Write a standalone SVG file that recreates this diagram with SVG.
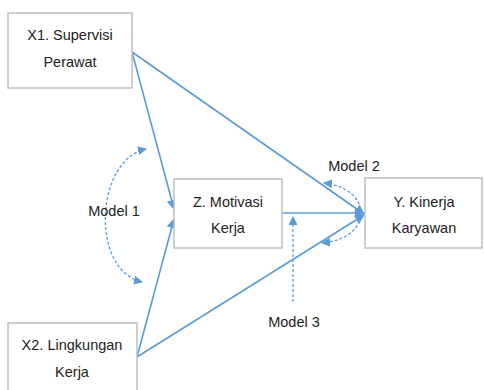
<svg xmlns="http://www.w3.org/2000/svg" width="484" height="390" viewBox="0 0 484 390">
<style>
.box{fill:#fff;stroke:#BFBFBF;stroke-width:1.5}
.t{font-family:"Liberation Sans",Arial,sans-serif;font-size:14.5px;fill:#222;text-anchor:middle}
.ln{stroke:#5B9BD5;stroke-width:1.6;fill:none}
.dash{stroke:#5B9BD5;stroke-width:1.3;fill:none;stroke-dasharray:3,2}
</style>
<defs>
<marker id="ah" markerWidth="10" markerHeight="10" refX="9" refY="5" orient="auto" markerUnits="userSpaceOnUse">
<path d="M0,0 L10,5 L0,10 z" fill="#5B9BD5"/>
</marker>
<marker id="sh" markerWidth="9" markerHeight="9" refX="8" refY="4.5" orient="auto-start-reverse" markerUnits="userSpaceOnUse">
<path d="M0,0 L9,4.5 L0,9 z" fill="#5B9BD5"/>
</marker>
</defs>
<rect width="484" height="390" fill="#fff"/>
<g id="connectors">
<line class="ln" x1="132" y1="52" x2="174" y2="209" marker-end="url(#ah)"/>
<line class="ln" x1="137" y1="357" x2="174" y2="219" marker-end="url(#ah)"/>
<line class="ln" x1="132" y1="52" x2="364" y2="214" marker-end="url(#ah)"/>
<line class="ln" x1="282" y1="213" x2="364" y2="213" marker-end="url(#ah)"/>
<line class="ln" x1="137" y1="357" x2="364" y2="215" marker-end="url(#ah)"/>
<path class="dash" d="M146,149 C95,160 90,270 142,282" marker-start="url(#sh)" marker-end="url(#sh)"/>
<path class="dash" d="M324,183 C372,188 375,238 322,243" marker-start="url(#sh)" marker-end="url(#sh)"/>
<line class="dash" x1="293" y1="302" x2="293" y2="217" marker-end="url(#sh)"/>
</g>
<g id="x1">
<rect class="box" x="8" y="13" width="124" height="75"/>
<text class="t" x="70" y="40">X1. Supervisi</text>
<text class="t" x="70" y="67">Perawat</text>
</g>
<g id="x2">
<rect class="box" x="8" y="323" width="129" height="70"/>
<text class="t" x="72" y="350">X2. Lingkungan</text>
<text class="t" x="72" y="377">Kerja</text>
</g>
<g id="z">
<rect class="box" x="174" y="179" width="108" height="69"/>
<text class="t" x="228" y="207">Z. Motivasi</text>
<text class="t" x="228" y="233">Kerja</text>
</g>
<g id="y">
<rect class="box" x="365" y="178" width="117" height="70"/>
<text class="t" x="424" y="207">Y. Kinerja</text>
<text class="t" x="424" y="233">Karyawan</text>
</g>
<g id="labels">
<text class="t" x="114" y="216">Model 1</text>
<text class="t" x="354" y="171">Model 2</text>
<text class="t" x="294" y="327">Model 3</text>
</g>
</svg>
